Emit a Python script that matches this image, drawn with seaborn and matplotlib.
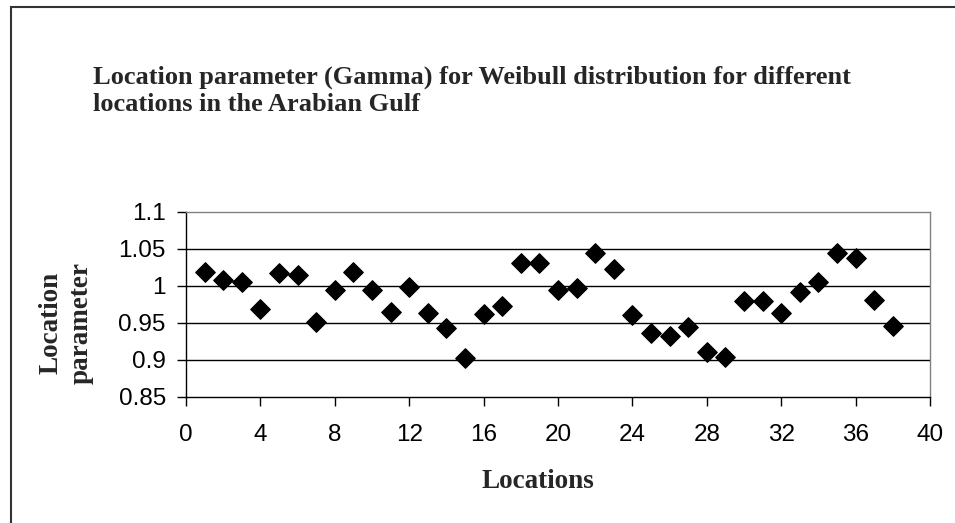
import pandas as pd
import seaborn as sns
import matplotlib.pyplot as plt
from matplotlib.patches import Rectangle

# values
locations = list(range(1, 39))
gamma = [
    1.019, 1.008, 1.005, 0.968, 1.017, 1.014, 0.951, 0.994, 1.019, 0.994,
    0.965, 0.998, 0.963, 0.943, 0.902, 0.962, 0.973, 1.030, 1.030, 0.994,
    0.997, 1.044, 1.022, 0.960, 0.936, 0.932, 0.944, 0.911, 0.903, 0.979,
    0.979, 0.963, 0.992, 1.005, 1.044, 1.038, 0.981, 0.946,
]
x_ticks = list(range(0, 41, 4))
y_ticks = [0.85, 0.9, 0.95, 1.0, 1.05, 1.1]
y_tick_labels = ["0.85", "0.9", "0.95", "1", "1.05", "1.1"]

df = pd.DataFrame({"Location": locations, "Gamma": gamma})

sns.set_style("white")
plt.rcParams["font.family"] = ["Liberation Sans", "DejaVu Sans"]

fig = plt.figure(figsize=(9.55, 5.23), dpi=100)
ax = fig.add_axes([186 / 955, 1 - 396.7 / 523, (930 - 186) / 955, (396.7 - 211.7) / 523])

# outer chart frame (runs past right and bottom edge like the source)
fig.patches.append(Rectangle((11 / 955, -0.1), 1.1, 1 - 7 / 523 + 0.1,
                             transform=fig.transFigure, fill=False,
                             edgecolor="#333333", linewidth=1.5))

for yv in y_ticks[1:-1]:
    ax.axhline(yv, color="black", linewidth=1.0, zorder=1)

sns.scatterplot(data=df, x="Location", y="Gamma", marker="D", s=100,
                color="black", edgecolor="black", linewidth=0.8, ax=ax,
                zorder=3, legend=False)

ax.set_xlim(0, 40)
ax.set_ylim(0.85, 1.1)
ax.set_xticks(x_ticks)
ax.set_yticks(y_ticks)
ax.set_yticklabels(y_tick_labels)
ax.tick_params(axis="both", direction="out", length=6.5, width=1, colors="black",
               labelsize=17.5, bottom=True, left=True)
ax.tick_params(axis="x", pad=13)
ax.tick_params(axis="y", pad=8)
ax.set_xlabel("")
ax.set_ylabel("")

for side in ["top", "right"]:
    ax.spines[side].set_color("#808080")
    ax.spines[side].set_linewidth(1.0)
for side in ["left", "bottom"]:
    ax.spines[side].set_color("black")
    ax.spines[side].set_linewidth(1.0)

serif = ["Liberation Serif", "DejaVu Serif"]
fig.text(93 / 955, 1 - 91 / 523,
         "Location parameter (Gamma) for Weibull distribution for different\n"
         "locations in the Arabian Gulf",
         family=serif, fontweight="bold", fontsize=19, ha="left", va="center",
         linespacing=1.25)
fig.text(538 / 955, 1 - 482 / 523, "Locations", family=serif, fontweight="bold",
         fontsize=19.5, ha="center", va="center")
fig.text(66 / 955, 1 - 323 / 523, "Location\nparameter", family=serif,
         fontweight="bold", fontsize=19.5, ha="center", va="center",
         rotation=90, linespacing=1.3)

fig.savefig("out.png", dpi=100)
